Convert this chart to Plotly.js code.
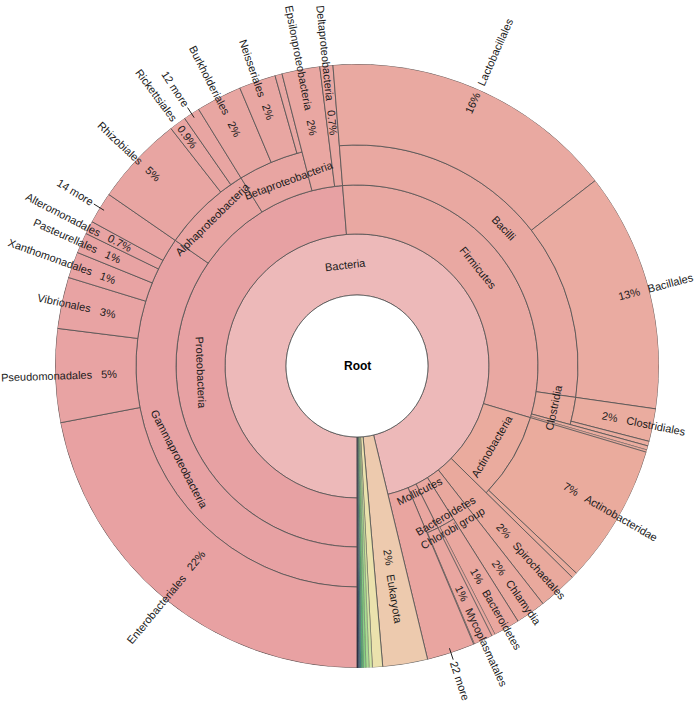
<!DOCTYPE html>
<html>
<head>
<meta charset="utf-8">
<script src="https://cdn.plot.ly/plotly-3.0.1.min.js"></script>
<style>html,body{margin:0;padding:0;background:#fff}</style>
</head>
<body>
<div id="chart" style="width:697px;height:702px"></div>
<script>
// ---------- data: taxonomy tree (percent of all reads) ----------
const names = [
  "Root","Bacteria","Proteobacteria","Gammaproteobacteria",
  "Enterobacteriales","Pseudomonadales","Vibrionales","Xanthomonadales","Pasteurellales","Alteromonadales","14 more",
  "Alphaproteobacteria","Rhizobiales","Rickettsiales","12 more",
  "Betaproteobacteria","Burkholderiales","Neisseriales","other Betaproteobacteria",
  "Epsilonproteobacteria","Deltaproteobacteria",
  "Firmicutes","Bacilli","Lactobacillales","Bacillales","Clostridia","Clostridiales","other Clostridia",
  "other Firmicutes 1","other Firmicutes 2",
  "Actinobacteria","Actinobacteridae","other Actinobacteria",
  "Spirochaetales","Chlamydia",
  "Bacteroidetes/Chlorobi group","Bacteroidetes","other Bacteroidetes/Chlorobi group",
  "Mollicutes","Mycoplasmatales","other Mollicutes",
  "22 more",
  "Eukaryota",
  "other 1","other 2","other 3","other 4","other 5","other 6","other 7","other 8"
];
const parents = [
  "","Root","Bacteria","Proteobacteria",
  "Gammaproteobacteria","Gammaproteobacteria","Gammaproteobacteria","Gammaproteobacteria","Gammaproteobacteria","Gammaproteobacteria","Gammaproteobacteria",
  "Proteobacteria","Alphaproteobacteria","Alphaproteobacteria","Alphaproteobacteria",
  "Proteobacteria","Betaproteobacteria","Betaproteobacteria","Betaproteobacteria",
  "Proteobacteria","Proteobacteria",
  "Bacteria","Firmicutes","Bacilli","Bacilli","Firmicutes","Clostridia","Clostridia",
  "Firmicutes","Firmicutes",
  "Bacteria","Actinobacteria","Actinobacteria",
  "Bacteria","Bacteria",
  "Bacteria","Bacteroidetes/Chlorobi group","Bacteroidetes/Chlorobi group",
  "Bacteria","Mollicutes","Mollicutes",
  "Bacteria",
  "Root",
  "Root","Root","Root","Root","Root","Root","Root","Root"
];
// leaf values in percent; internal nodes (null) are the sum of their children
const values = [
  null,null,null,null,
  22.0,5.0,2.75,1.4,1.1,0.7,1.69,
  null,4.8,0.9,0.88,
  null,2.45,1.97,0.38,
  2.03,0.7,
  null,null,15.75,12.8,null,1.75,0.25,
  0.22,0.12,
  null,7.44,0.31,
  2.08,1.61,
  null,1.4,0.18,
  null,1.02,0.04,
  2.56,
  2.4,
  0.55,0.17,0.17,0.14,0.11,0.08,0.08,0.06
];

// ---------- style ----------
const colorOf = {
  "Root":"#ffffff","Bacteria":"#edb9b9",
  "Proteobacteria":"#e7a1a3","Gammaproteobacteria":"#e7a1a3",
  "Enterobacteriales":"#e8a1a2","Pseudomonadales":"#e8a3a3","Vibrionales":"#e8a3a3","Xanthomonadales":"#e8a3a3",
  "Pasteurellales":"#e8a3a3","Alteromonadales":"#e8a3a3","14 more":"#e8a4a3",
  "Alphaproteobacteria":"#e8a4a2","Rhizobiales":"#e8a5a2","Rickettsiales":"#e8a5a2","12 more":"#e8a5a2",
  "Betaproteobacteria":"#e8a5a2","Burkholderiales":"#e8a6a2","Neisseriales":"#e8a6a2","other Betaproteobacteria":"#e8a6a2",
  "Epsilonproteobacteria":"#e9a7a2","Deltaproteobacteria":"#e9a7a2",
  "Firmicutes":"#e9a8a2","Bacilli":"#e9a8a1","Lactobacillales":"#e9a9a1","Bacillales":"#eaaba1",
  "Clostridia":"#eaab9f","Clostridiales":"#eaac9f","other Clostridia":"#eaac9f",
  "other Firmicutes 1":"#eaac9f","other Firmicutes 2":"#eaac9f",
  "Actinobacteria":"#eaab9e","Actinobacteridae":"#eaab9d","other Actinobacteria":"#eaab9d",
  "Spirochaetales":"#e9a99d","Chlamydia":"#e9a89e",
  "Bacteroidetes/Chlorobi group":"#e9a7a0","Bacteroidetes":"#e9a79f","other Bacteroidetes/Chlorobi group":"#e9a79f",
  "Mollicutes":"#e9a6a0","Mycoplasmatales":"#e9a6a0","other Mollicutes":"#e9a6a0",
  "22 more":"#e9a5a0",
  "Eukaryota":"#edcaae",
  "other 1":"#ebe2ad","other 2":"#d2e6a2","other 3":"#aadc92","other 4":"#86d184","other 5":"#5db57a",
  "other 6":"#3f8c84","other 7":"#34557a","other 8":"#22223a"
};
// radial position (px from centre) of the percentage text of labelled leaves
const pctR = {
  "Enterobacteriales":252,"Pseudomonadales":248,"Vibrionales":255,"Xanthomonadales":264,"Pasteurellales":267,
  "Alteromonadales":267,"Rhizobiales":280,"Rickettsiales":285,"Burkholderiales":267,"Neisseriales":269,
  "Epsilonproteobacteria":243,"Deltaproteobacteria":245,"Lactobacillales":287,"Bacillales":281,
  "Clostridiales":258,"Actinobacteridae":247,"Spirochaetales":221,"Chlamydia":247,"Bacteroidetes":242,
  "Mycoplasmatales":250,"Eukaryota":194
};
const innerLabels = {
  "Bacteria":{},"Proteobacteria":{},"Gammaproteobacteria":{},
  "Alphaproteobacteria":{r:206,dth:-1},"Betaproteobacteria":{r:198,dth:3},
  "Firmicutes":{},"Bacilli":{},"Clostridia":{},"Actinobacteria":{},
  "Bacteroidetes/Chlorobi group":{r:181,text:"Bacteroidetes<br>Chlorobi group",dth:-1},
  "Mollicutes":{r:140,dth:-2}
};
const moreLabels = ["14 more","12 more","22 more"];

const W=697,H=702,M={l:55,r:38,t:64,b:34};
const PW=W-M.l-M.r, PH=H-M.t-M.b;
const R=302, ringR=[0,71,132,181,221];
const LINE='rgb(80,80,80)';
const FONT='"Liberation Sans", Arial, sans-serif';

// ---------- tree layout ----------
const N=names.length, idx={};
names.forEach((n,i)=>idx[n]=i);
const kids=names.map(()=>[]);
parents.forEach((p,i)=>{ if(p!=="") kids[idx[p]].push(i); });
const val=new Array(N);
function sum(i){ if(!kids[i].length) return val[i]=values[i]; let s=0; kids[i].forEach(k=>s+=sum(k)); return val[i]=s; }
sum(0);
const total=val[0];
const a0=new Array(N),a1=new Array(N),dep=new Array(N);
function lay(i,start,d){ a0[i]=start; a1[i]=start+val[i]/total*360; dep[i]=d; let s=start; kids[i].forEach(k=>{lay(k,s,d+1); s=a1[k];}); }
lay(0,180,0);

const th=[],wd=[],bs=[],rr=[],cols=[],lw=[];
for(let i=1;i<N;i++){
  const inner=ringR[dep[i]];
  const outer=kids[i].length? ringR[dep[i]+1] : R;
  const w=a1[i]-a0[i];
  th.push(((a0[i]+a1[i])/2)%360); wd.push(w); bs.push(inner); rr.push(outer-inner);
  cols.push(colorOf[names[i]]||'#e8a4a2');
  lw.push(w<0.7? 0.35 : 0.8);
}
const traces=[
  {type:'barpolar',theta:th,width:wd,base:bs,r:rr,marker:{color:cols,line:{color:LINE,width:lw}},hoverinfo:'skip'},
  {type:'barpolar',theta:[0],width:[360],base:[0],r:[ringR[1]],marker:{color:'#ffffff',line:{color:LINE,width:0.8}},hoverinfo:'skip'}
];

// ---------- labels ----------
const cv=document.createElement('canvas').getContext('2d');
cv.font='11px "Liberation Sans"';
const tw=s=>cv.measureText(s).width;
const norm=a=>{a%=360; if(a<0)a+=360; return a;};
const P=(r,t)=>{const q=t*Math.PI/180; return {x:0.5+r*Math.sin(q)/PW, y:0.5+r*Math.cos(q)/PH};};
const tang=t=>{t=norm(t); if(t<90) return t; if(t>270) return t-360; return t-180;};
const radial=t=>{t=norm(t); return t<180? t-90 : t-270;};
const fmt=p=> p<0.95? p.toFixed(1)+'%' : Math.round(p)+'%';
const ann=[], shapes=[];
function addText(text,r,t,angle,extra){
  const p=P(r,t);
  ann.push(Object.assign({x:p.x,y:p.y,xref:'paper',yref:'paper',text:text,showarrow:false,textangle:angle,
    xanchor:'center',yanchor:'middle',font:{family:FONT,size:11,color:'#1a1a1a'}},extra||{}));
}
// root
ann.push({x:0.5,y:0.5,xref:'paper',yref:'paper',text:'<b>Root</b>',showarrow:false,xanchor:'center',yanchor:'middle',
  font:{family:FONT,size:12,color:'#000'}});
// inner (tangential) labels
Object.keys(innerLabels).forEach(n=>{
  const i=idx[n], o=innerLabels[n];
  const t=(a0[i]+a1[i])/2+(o.dth||0);
  const r=o.r!==undefined? o.r : (ringR[dep[i]]+ringR[dep[i]+1])/2;
  addText(o.text||n, r, t, tang(t));
});
// leaf (radial) labels
Object.keys(pctR).forEach(n=>{
  const i=idx[n], t=(a0[i]+a1[i])/2, ang=radial(t);
  const pct=fmt(val[i]/total*100);
  addText(pct,pctR[n],t,ang);
  const start=pctR[n]+tw(pct)/2+9;
  addText(n,start+tw(n)/2,t,ang);
});
// "N more" labels with a tick
moreLabels.forEach(n=>{
  const i=idx[n], t=(a0[i]+a1[i])/2, ang=radial(t);
  const p0=P(R-5,t), p1=P(R+7,t);
  shapes.push({type:'line',xref:'paper',yref:'paper',x0:p0.x,y0:p0.y,x1:p1.x,y1:p1.y,line:{color:'#222',width:1}});
  addText(n,R+9+tw(n)/2,t,ang);
});

const layout={
  width:W,height:H,margin:M,paper_bgcolor:'#fff',showlegend:false,
  polar:{domain:{x:[0,1],y:[0,1]},bgcolor:'rgba(0,0,0,0)',barmode:'overlay',
    radialaxis:{visible:false,range:[0,R],showgrid:false},
    angularaxis:{visible:false,rotation:90,direction:'clockwise',showgrid:false}},
  annotations:ann,shapes:shapes
};
Plotly.newPlot('chart',traces,layout,{displayModeBar:false,staticPlot:true});
</script>
</body>
</html>
